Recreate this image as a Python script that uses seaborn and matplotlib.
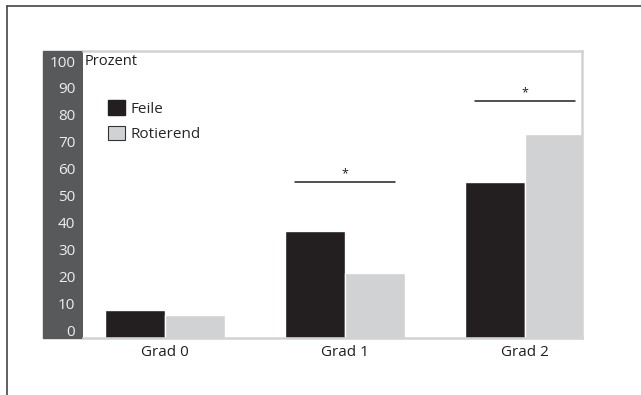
import pandas as pd
import matplotlib
matplotlib.use("Agg")
import matplotlib.pyplot as plt
import matplotlib.transforms as mtransforms
from matplotlib.patches import Rectangle, Patch
from matplotlib.lines import Line2D
import seaborn as sns

# Daten
grade = ["Grad 0", "Grad 1", "Grad 2"]
feile = [10.4, 39.8, 58.0]
rotierend = [8.7, 24.2, 75.8]
gruppen = ["Feile", "Rotierend"]
y_ticks = [0, 10, 20, 30, 40, 50, 60, 70, 80, 90, 100]

# Signifikanz-Markierungen (Grad-Index, Linienhoehe)
sig_grad = [1, 2]
sig_hoehe = [58.1, 88.2]

dunkel = "#231f20"
hell = "#d1d2d4"
band = "#58595b"

df = pd.DataFrame({
    "Grad": grade * 2,
    "Gruppe": [gruppen[0]] * 3 + [gruppen[1]] * 3,
    "Prozent": feile + rotierend,
})

sns.set_theme(style="white")
plt.rcParams["font.family"] = ["Open Sans", "DejaVu Sans"]

W, H = 641, 395
fig = plt.figure(figsize=(W / 100, H / 100), dpi=100)
ax = fig.add_axes([83 / W, (H - 338) / H, (582 - 83) / W, (338 - 51) / H])
ax.set_zorder(2)

# dunkles Band hinter der y-Achse
fig.patches.append(Rectangle((43 / W, (H - 338) / H), 40 / W, 287 / H,
                             transform=fig.transFigure, color=band, zorder=0))
# Rahmen (links und oben)
fig.add_artist(Line2D([7 / W, 7 / W], [0, 1 - 6 / H], transform=fig.transFigure,
                      color="#444444", lw=1.2))
fig.add_artist(Line2D([7 / W, 1], [1 - 6 / H, 1 - 6 / H], transform=fig.transFigure,
                      color="#444444", lw=1.2))

sns.barplot(data=df, x="Grad", y="Prozent", hue="Gruppe", palette=[dunkel, hell],
            width=0.667, gap=0, saturation=1, legend=False, ax=ax, zorder=2)

ax.set_xlim(-0.456, 2.317)
ax.set_ylim(0, 106.7)
ax.set_xlabel("")
ax.set_ylabel("")
ax.set_yticks(y_ticks)
ax.set_yticklabels([str(t) for t in y_ticks], color="#eeeeee", fontsize=11)
ax.tick_params(axis="y", length=0, pad=5.5)
ax.tick_params(axis="x", length=0, pad=5, labelsize=11, labelcolor="#231f20")
off = mtransforms.ScaledTranslation(0, 0.08, fig.dpi_scale_trans)
for lab in ax.get_yticklabels():
    lab.set_transform(lab.get_transform() + off)

ax.spines["left"].set_visible(False)
for s in ["top", "right", "bottom"]:
    ax.spines[s].set_color(hell)
    ax.spines[s].set_linewidth(1.8)

ax.text(0.003, 0.965, "Prozent", transform=ax.transAxes, va="center", ha="left",
        fontsize=10.5, color=dunkel)

# Signifikanz
for g, h in zip(sig_grad, sig_hoehe):
    ax.plot([g - 0.28, g + 0.28], [h, h], color=dunkel, lw=1.1, zorder=3)
    ax.text(g, h + 1.8, "*", ha="center", va="baseline", fontsize=9, color=dunkel)

handles = [Patch(facecolor=dunkel, edgecolor=dunkel),
           Patch(facecolor=hell, edgecolor="#333333", linewidth=0.8)]
ax.legend(handles, gruppen, loc="upper left", bbox_to_anchor=(0.05, 0.829),
          frameon=False, borderpad=0, borderaxespad=0, handlelength=1.1,
          handleheight=1.1, handletextpad=0.35, labelspacing=0.6, fontsize=11)

fig.savefig("out.png", dpi=100)
